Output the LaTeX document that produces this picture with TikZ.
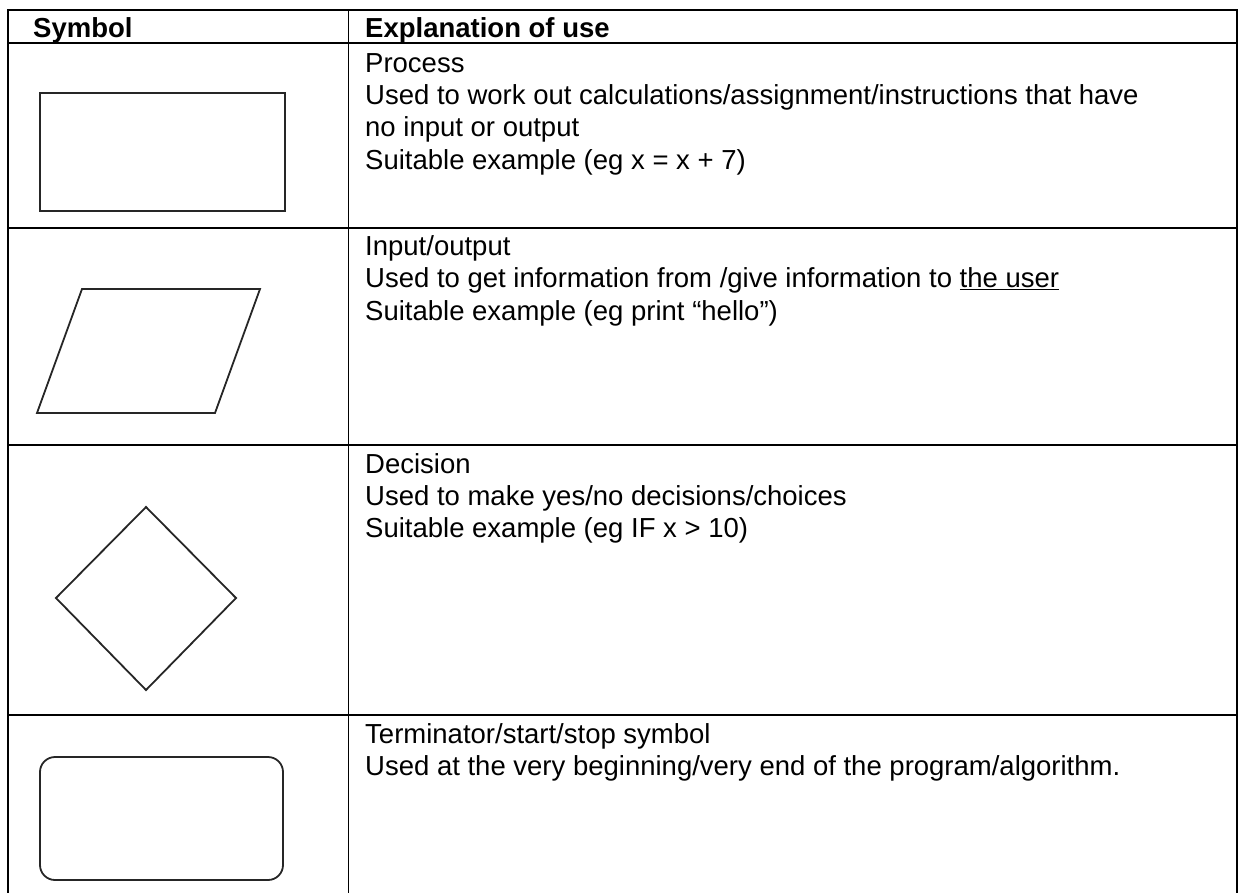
\documentclass[tikz,border=0pt]{standalone}
\usepackage{fontspec}
\setmainfont{Liberation Sans}
\usetikzlibrary{positioning}

\begin{document}
\begin{tikzpicture}[
  x=1pt, y=-1pt,
  font=\fontsize{27.5}{32.3}\selectfont,
  grid/.style={line width=1.7pt, line cap=rect},
  symline/.style={line width=1.8pt, draw=black!85, line join=miter},
  cell/.style={anchor=base west, align=left, inner sep=0pt},
  headcell/.style={cell, font=\fontsize{27.5}{32.3}\selectfont\bfseries}
]
\useasboundingbox (0,0) rectangle (1238,892);

% table rules
\draw[grid] (8.3,892) -- (8.3,10) -- (1236.7,10) -- (1236.7,892);
\draw[grid] (348.5,10) -- (348.5,892);
\foreach \yy in {43.3,228.3,445,715}
  \draw[grid] (8.3,\yy) -- (1236.7,\yy);

% header
\node[headcell] (hsym) at (33,37) {Symbol};
\node[headcell] (hexp) at (365,37) {Explanation of use};

% process (base = last line)
\node[draw, symline, minimum width=245pt, minimum height=118pt] (process) at (162.5,152) {};
\node[cell] (txtproc) at (365,169) {Process\\
  Used to work out calculations/assignment/instructions that have\\
  no input or output\\
  Suitable example (eg x = x + 7)};

% input/output
\coordinate (io1) at (37,413);
\coordinate (io2) at (215,413);
\coordinate (io3) at (260,289);
\coordinate (io4) at (82,289);
\draw[symline] (io1) -- (io2) -- (io3) -- (io4) -- cycle;
\node[cell] (txtio) at (365,320) {Input/output\\
  Used to get information from /give information to \underline{the user}\\
  Suitable example (eg print “hello”)};

% decision
\coordinate (dtop) at (146,507);
\coordinate (dright) at (236,598);
\coordinate (dbot) at (146,690);
\coordinate (dleft) at (56,598);
\draw[symline] (dtop) -- (dright) -- (dbot) -- (dleft) -- cycle;
\node[cell] (txtdec) at (365,537.6) {Decision\\
  Used to make yes/no decisions/choices\\
  Suitable example (eg IF x > 10)};

% terminator
\node[draw, symline, rounded corners=15pt, minimum width=243pt, minimum height=123pt] (term) at (161.5,818.5) {};
\node[cell] (txtterm) at (365,775.3) {Terminator/start/stop symbol\\
  Used at the very beginning/very end of the program/algorithm.};

\end{tikzpicture}
\end{document}
